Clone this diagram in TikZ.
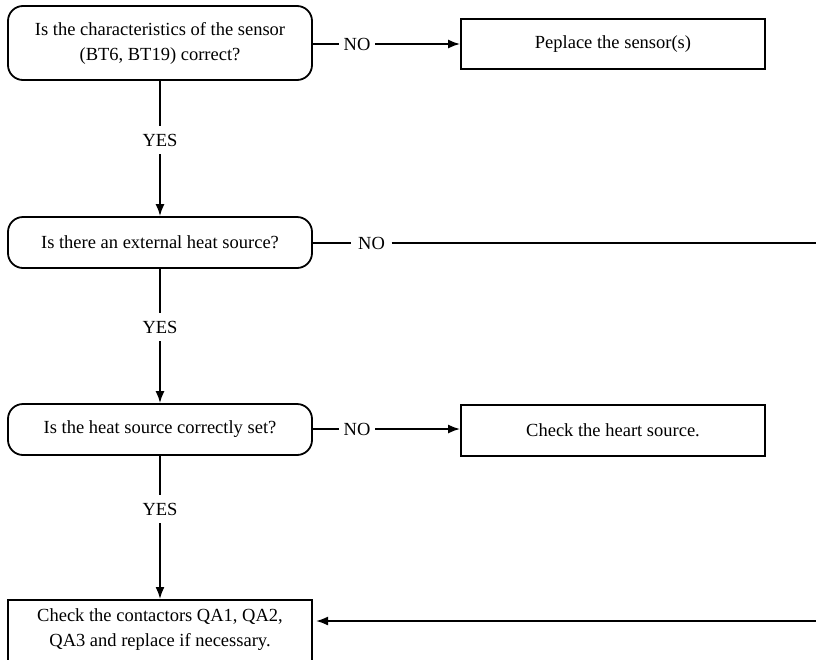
\documentclass[tikz,border=0pt]{standalone}
\usepackage{fontspec}
\setmainfont{Liberation Serif}
\usetikzlibrary{arrows.meta}
\begin{document}
\begin{tikzpicture}[x=1pt,y=-1pt,
  every node/.style={font=\fontsize{18.5}{25}\selectfont},
  decision/.style={draw,line width=1.8pt,rounded corners=15pt,minimum width=304pt,align=center,inner sep=0pt},
  action/.style={draw,line width=1.8pt,minimum width=304pt,align=center,inner sep=0pt},
  conn/.style={line width=1.8pt},
  arr/.style={conn,-{Latex[length=12pt,width=9pt]}},
  lab/.style={inner sep=4pt}]
\useasboundingbox (0,0) rectangle (816,659);
\clip (0,0) rectangle (816,659);
% nodes
\node[decision,minimum height=74pt] (b1) at (160,43) {Is the characteristics of the sensor\\(BT6, BT19) correct?};
\node[action,minimum height=50pt] (r1) at (613,44) {Peplace the sensor(s)};
\node[decision,minimum height=51pt] (b2) at (160,242.5) {Is there an external heat source?};
\node[decision,minimum height=51pt] (b3) at (160,429.5) {Is the heat source correctly set?};
\node[action,minimum height=51pt] (r3) at (613,430.5) {Check the heart source.};
\node[action,anchor=north,inner ysep=9pt,text depth=60pt] (b4) at (160,599) {Check the contactors QA1, QA2,\\QA3 and replace if necessary.};
% labels
\node[lab,inner xsep=4.5pt] (no1) at (357,44) {NO};
\node[lab,inner xsep=6.5pt] (no2) at (371.5,243) {NO};
\node[lab,inner xsep=4.5pt] (no3) at (357,429) {NO};
\node[lab,inner ysep=8pt] (yes1) at (160,140) {YES};
\node[lab,inner ysep=8pt] (yes2) at (160,327) {YES};
\node[lab,inner ysep=8pt] (yes3) at (160,509) {YES};
\coordinate (c1) at (840,243);
\coordinate (c2) at (840,621);
\coordinate (b4in) at (312,621);
% connectors
\draw[conn] (b1.east |- no1) -- (no1);
\draw[arr] (no1) -- (r1.west |- no1);
\draw[conn] (b2.east |- no2) -- (no2);
\draw[conn] (no2) -- (c1) -- (c2);
\draw[arr,shorten >=4pt] (c2) -- (b4in);
\draw[conn] (b3.east |- no3) -- (no3);
\draw[arr] (no3) -- (r3.west |- no3);
\draw[conn] (b1) -- (yes1);
\draw[arr] (yes1) -- (b2);
\draw[conn] (b2) -- (yes2);
\draw[arr] (yes2) -- (b3);
\draw[conn] (b3) -- (yes3);
\draw[arr] (yes3) -- (b4);
\end{tikzpicture}
\end{document}
